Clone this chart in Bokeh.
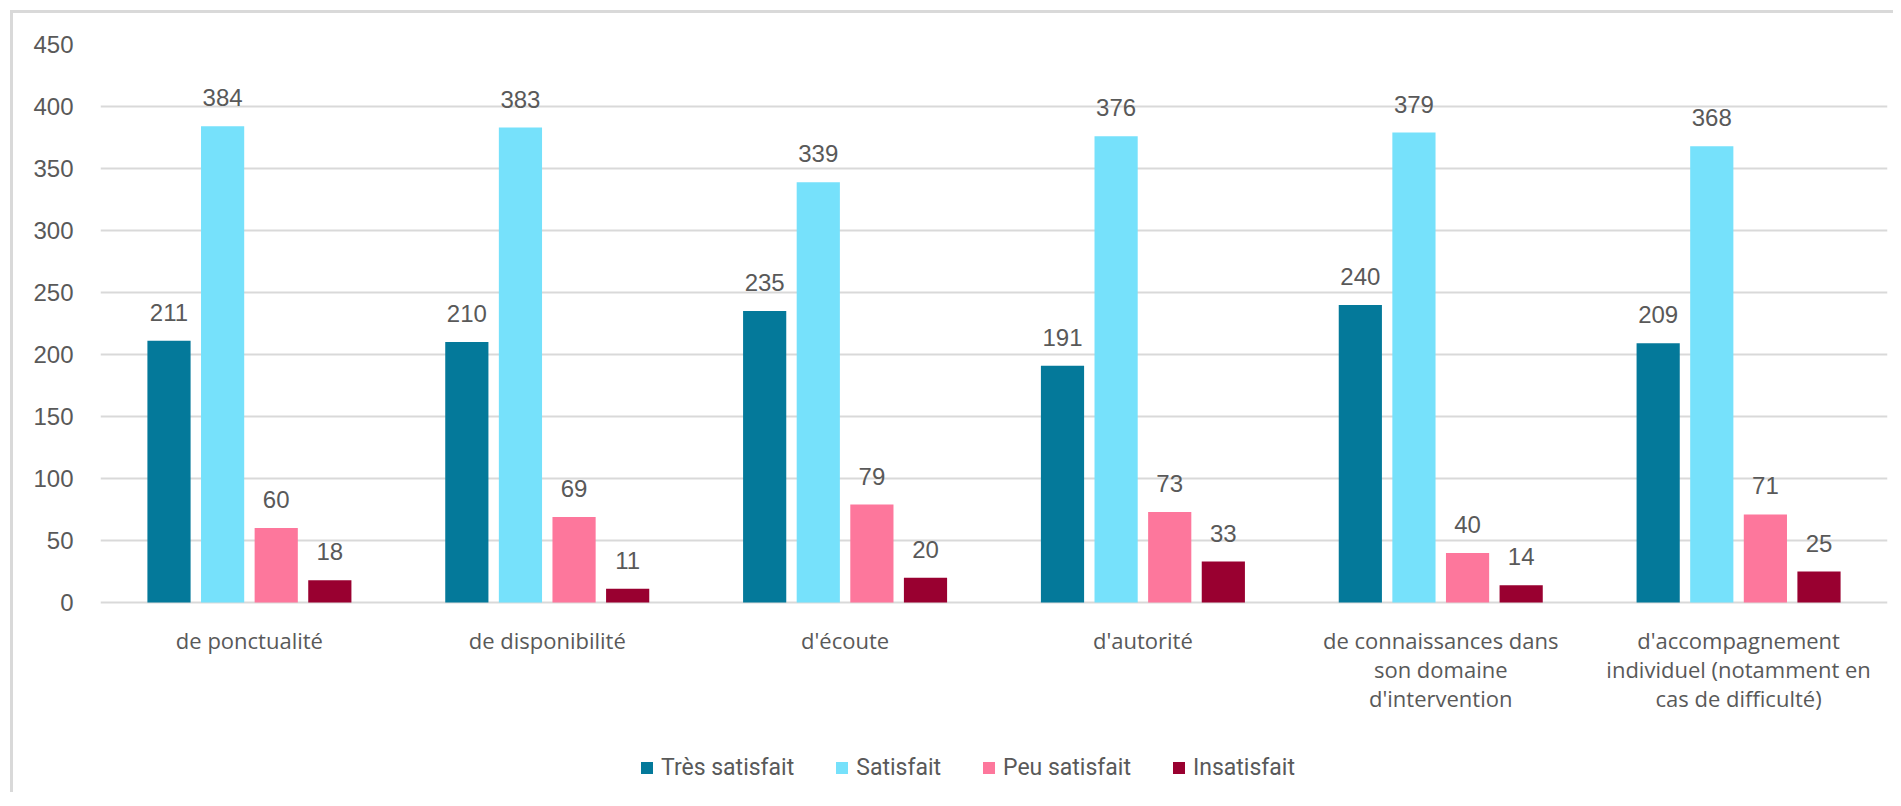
from bokeh.plotting import figure
from bokeh.models import ColumnDataSource, FactorRange, Range1d, LabelSet, Legend, LegendItem, FixedTicker
from bokeh.core.properties import value
from bokeh.transform import dodge
from bokeh.embed import file_html
from bokeh.resources import INLINE

categories = [
    "de ponctualité",
    "de disponibilité",
    "d'écoute",
    "d'autorité",
    "de connaissances dans\nson domaine\nd'intervention",
    "d'accompagnement\nindividuel (notamment en\ncas de difficulté)",
]
tres_satisfait = [211, 210, 235, 191, 240, 209]
satisfait = [384, 383, 339, 376, 379, 368]
peu_satisfait = [60, 69, 79, 73, 40, 71]
insatisfait = [18, 11, 20, 33, 14, 25]
series_names = ["Très satisfait", "Satisfait", "Peu satisfait", "Insatisfait"]
y_ticks = [0, 50, 100, 150, 200, 250, 300, 350, 400, 450]

colors = ["#04799A", "#76E1FB", "#FD779C", "#990030"]
offsets = [-0.27, -0.09, 0.09, 0.27]

# split category names into their (up to three) display lines
lines = [c.split("\n") + [""] * (3 - len(c.split("\n"))) for c in categories]

source = ColumnDataSource(data=dict(cat=categories, base=[0] * len(categories),
                                    l0=[l[0] for l in lines], l1=[l[1] for l in lines],
                                    l2=[l[2] for l in lines],
                                    s0=tres_satisfait, s1=satisfait,
                                    s2=peu_satisfait, s3=insatisfait))

NUM_FONT = "Liberation Sans"
PX_PER_UNIT = 558 / 450.0
BELOW_PX = 188

p = figure(x_range=FactorRange(*categories),
           y_range=Range1d(-BELOW_PX / PX_PER_UNIT, 450),
           frame_width=1787, frame_height=558 + BELOW_PX, output_backend="svg",
           toolbar_location=None,
           min_border_left=87, min_border_right=6, min_border_top=31, min_border_bottom=2)
p.styles = {"margin-left": "10px", "margin-top": "10px",
            "border-left": "3px solid #d9d9d9", "border-top": "3px solid #d9d9d9"}

items = []
for i, (name, col) in enumerate(zip(series_names, colors)):
    r = p.vbar(x=dodge("cat", offsets[i], range=p.x_range), top="s%d" % i, width=0.145,
               source=source, fill_color=col, line_color=None)
    items.append(LegendItem(label=name, renderers=[r]))
    lbl = LabelSet(x=dodge("cat", offsets[i], range=p.x_range), y="s%d" % i, text="s%d" % i,
                   source=source, text_align="center", text_baseline="alphabetic", y_offset=20,
                   text_font=value(NUM_FONT), text_font_size="24px", text_color="#595959")
    p.add_layout(lbl)

# category labels under the baseline, one centred line each
for k in range(3):
    cat_labels = LabelSet(x="cat", y="base", text="l%d" % k, source=source,
                          text_align="center", text_baseline="middle", y_offset=-37 - 29 * k,
                          text_font=value("Open Sans"), text_font_size="22px",
                          text_color="#595959")
    p.add_layout(cat_labels)

p.outline_line_color = None
p.background_fill_color = "white"
p.border_fill_color = "white"

p.xaxis.visible = False
p.xgrid.grid_line_color = None
p.ygrid.grid_line_color = "#d9d9d9"
p.ygrid.grid_line_width = 2
p.yaxis.ticker = FixedTicker(ticks=y_ticks)
p.yaxis.axis_line_color = None
p.yaxis.major_tick_line_color = None
p.yaxis.minor_tick_line_color = None
p.yaxis.major_tick_out = 0
p.yaxis.minor_tick_out = 0
p.yaxis.major_label_text_font = NUM_FONT
p.yaxis.major_label_text_font_size = "24px"
p.yaxis.major_label_text_color = "#595959"
p.yaxis.major_label_standoff = 27
p.x_range.range_padding = 0
p.x_range.group_padding = 0

legend = Legend(items=items, orientation="horizontal", location=(539, 9),
                label_text_font="Roboto", label_text_font_size="23px",
                label_text_color="#595959", glyph_width=15, glyph_height=15,
                spacing=40, label_standoff=7, border_line_color=None,
                background_fill_alpha=0, padding=0, margin=0)
p.add_layout(legend, "center")

open("out.html", "w").write(file_html(p, INLINE))
